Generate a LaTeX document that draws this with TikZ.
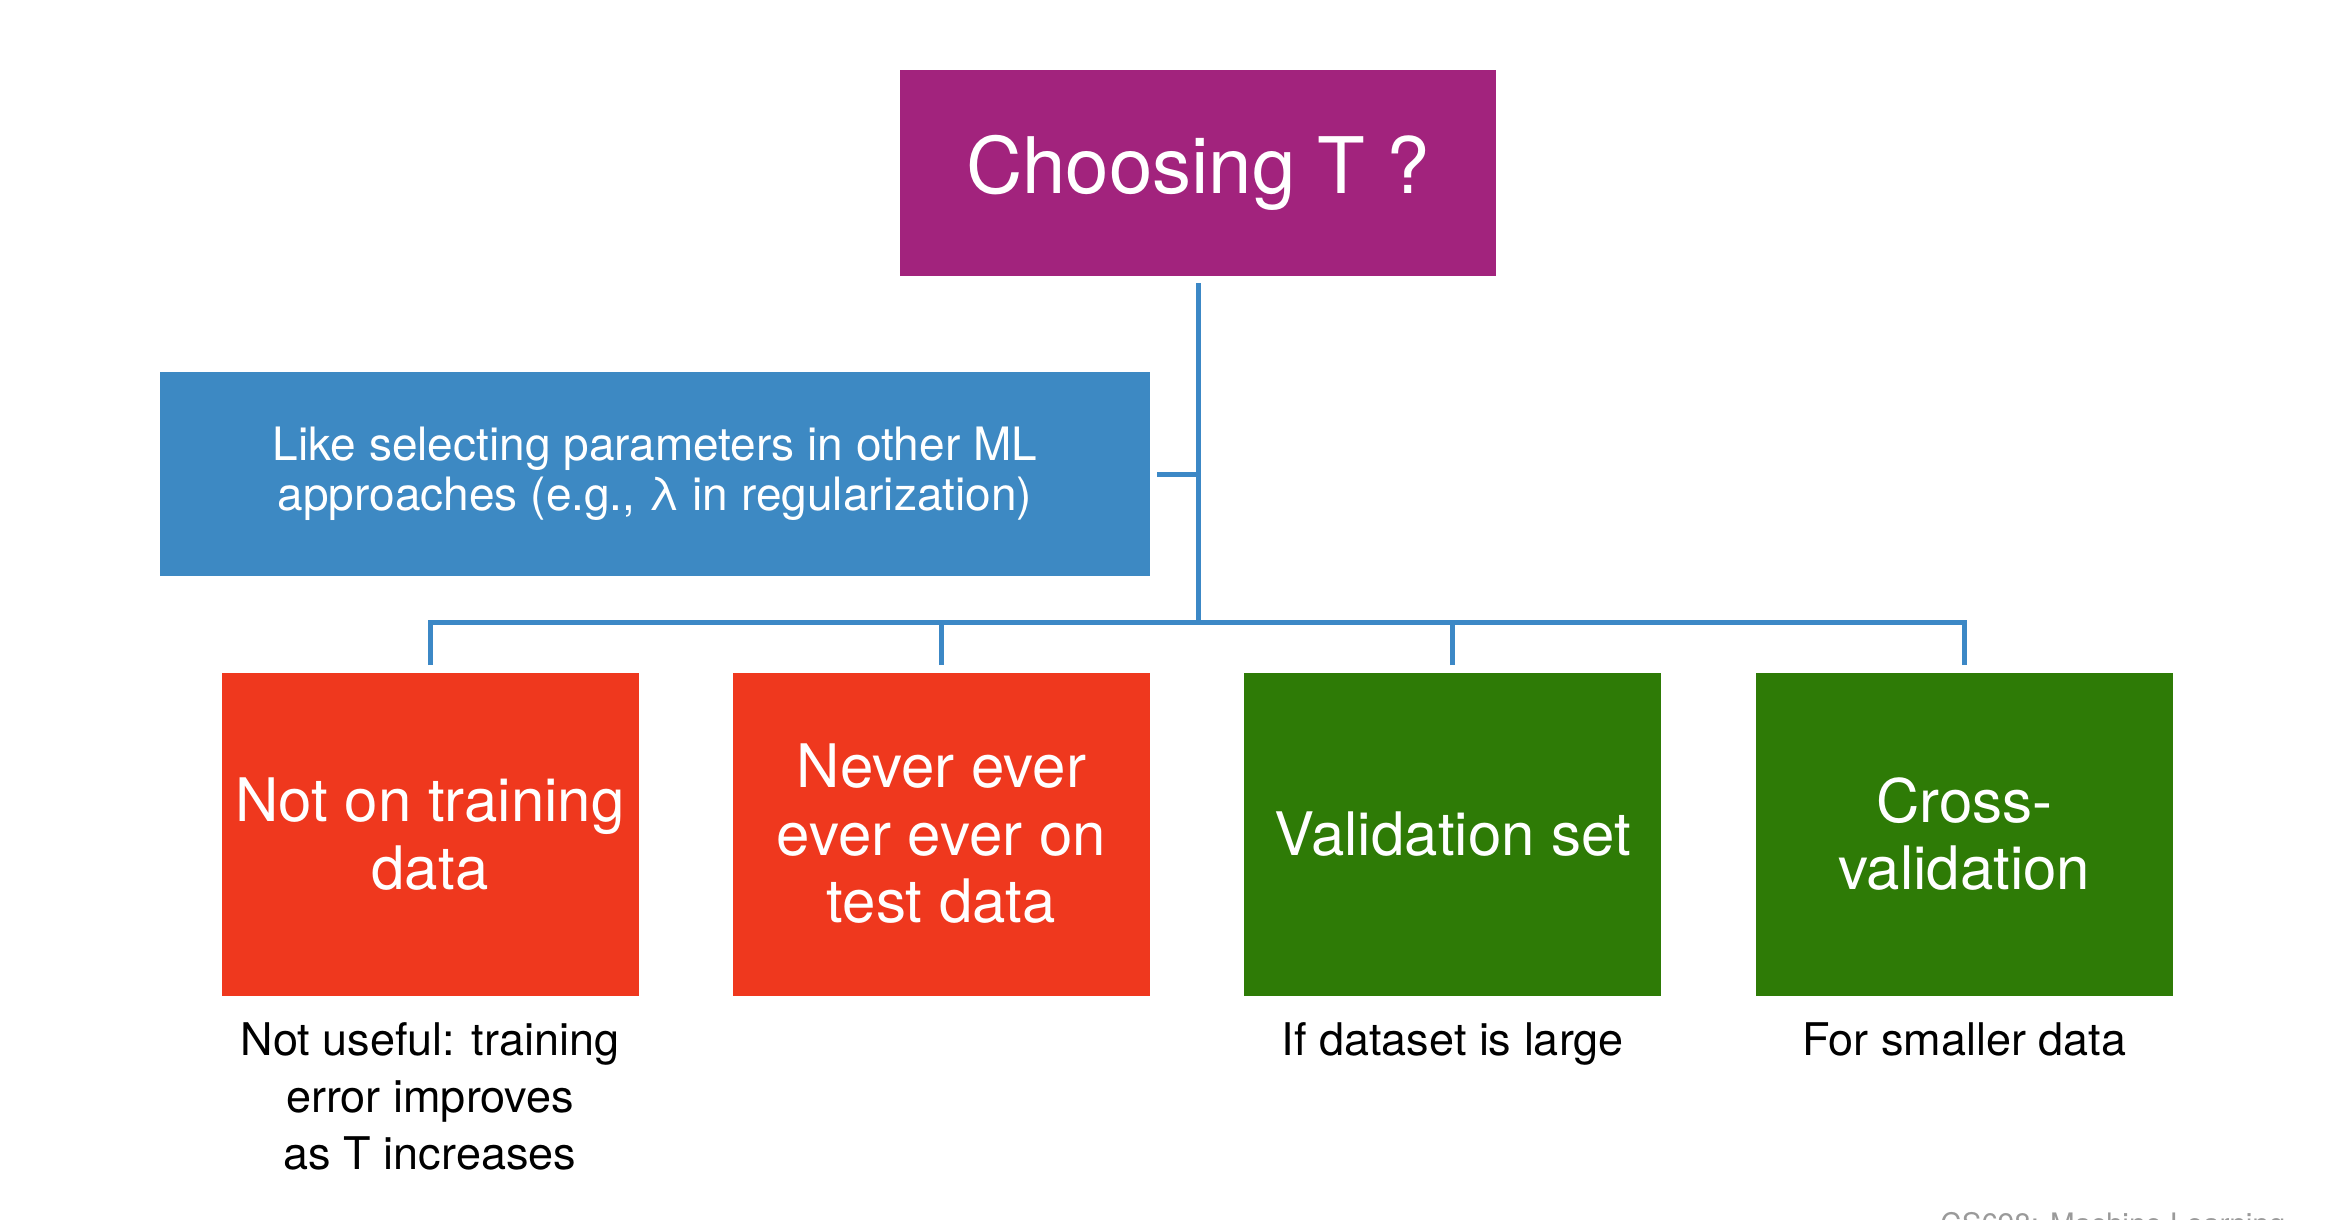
\documentclass[tikz,border=0pt]{standalone}
\usepackage{fontspec}
\setmainfont{TeX Gyre Heros}
\usepackage{tikz}
\usetikzlibrary{positioning}
\definecolor{choosepurple}{HTML}{A2237D}
\definecolor{likeblue}{HTML}{3D89C3}
\definecolor{avoidred}{HTML}{EF381E}
\definecolor{usegreen}{HTML}{2E7B06}
\definecolor{treeblue}{HTML}{3C88C6}
\definecolor{footgray}{HTML}{9A9A9A}
\tikzset{
  titlebox/.style={fill=choosepurple, text=white, minimum width=298pt, minimum height=103pt, inner sep=0pt, align=center, font=\fontsize{39}{45}\selectfont},
  likebox/.style={fill=likeblue, text=white, minimum width=495pt, minimum height=102pt, inner sep=0pt, align=center, font=\fontsize{23}{25}\selectfont},
  choicebox/.style={text=white, minimum width=208.5pt, minimum height=161.5pt, inner sep=0pt, align=center, font=\fontsize{30}{33.75}\selectfont},
  badchoice/.style={choicebox, fill=avoidred},
  goodchoice/.style={choicebox, fill=usegreen},
  note/.style={align=center, inner sep=0pt, font=\fontsize{22.5}{28.5}\selectfont},
  branch/.style={draw=treeblue, line width=2.5pt, shorten <=3.5pt}
}

\begin{document}
\begin{tikzpicture}
  \useasboundingbox (0,0) rectangle (1176pt,-610pt);
  \node[titlebox] (choose) at (599pt,-86.5pt) {Choosing T ?};
  \node[likebox] (like) at (327.5pt,-237pt) {Like selecting parameters in other ML\\approaches (e.g., λ in regularization)};
  \node[badchoice] (train) at (215pt,-417pt) {Not on training\\data};
  \node[badchoice, right=46.8pt of train] (test) {Never ever\\ever ever on\\test data};
  \node[goodchoice, right=46.8pt of test] (valid) {Validation set};
  \node[goodchoice, right=46.8pt of valid] (cross) {Cross-\\validation};
  \node[note, below=13pt of train] (trainnote) {Not useful: training\\error improves\\as T increases};
  \node[note, below=13pt of valid] (validnote) {If dataset is large};
  \node[note, below=13pt of cross] (crossnote) {For smaller data};
  \node[anchor=north west, inner sep=0pt, text=footgray, font=\fontsize{14.8}{17}\selectfont] (footer) at (970pt,-606pt) {CS698: Machine Learning};
  % tree lines
  \coordinate (hub) at (choose.south |- 0,-311pt);
  \draw[branch] (choose.south) -- (hub);
  \draw[branch] (like.east) -- (like.east -| hub);
  \draw[branch] (train.north) |- (hub);
  \draw[branch] (test.north) |- (hub);
  \draw[branch] (valid.north) |- (hub);
  \draw[branch] (cross.north) |- (hub);
\end{tikzpicture}
\end{document}
